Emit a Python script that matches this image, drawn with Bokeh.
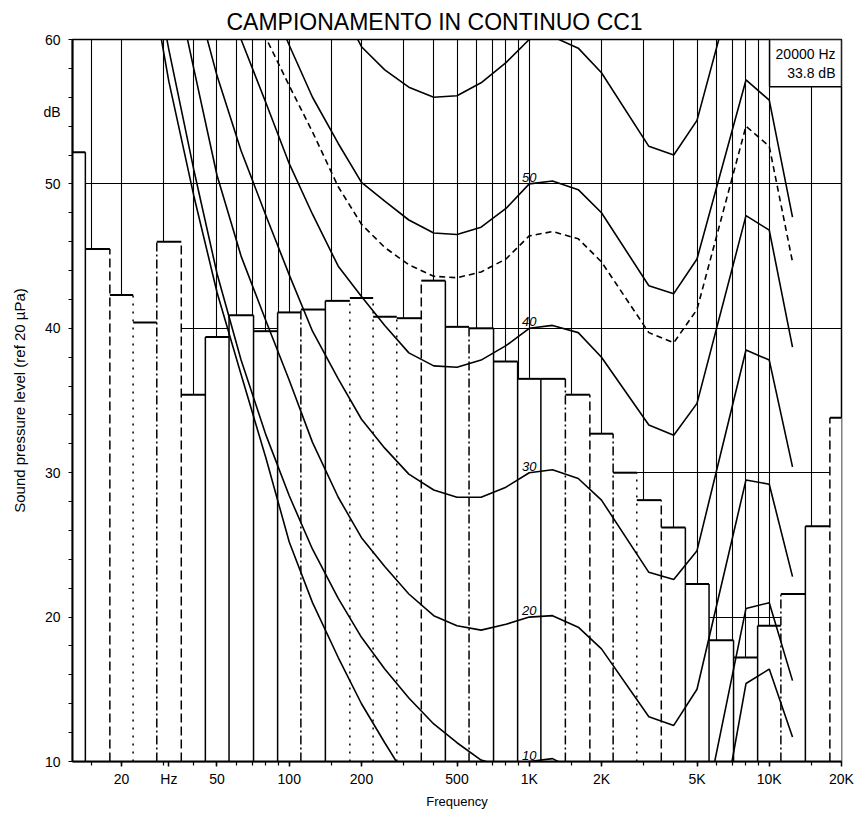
from bokeh.plotting import figure
from bokeh.models import Range1d, FixedTicker, ColumnDataSource, Label
from bokeh.embed import file_html
from bokeh.resources import INLINE
from bokeh.core.properties import value

FONT = "Liberation Sans"

chart_title = "CAMPIONAMENTO IN CONTINUO CC1"

# third-octave band spectrum
band_freqs = [12.5, 16, 20, 25, 31.5, 40, 50, 63, 80, 100, 125, 160, 200, 250, 315,
              400, 500, 630, 800, 1000, 1250, 1600, 2000, 2500, 3150, 4000, 5000,
              6300, 8000, 10000, 12500, 16000, 20000]
band_levels = [52.2, 45.5, 42.3, 40.4, 46.0, 35.4, 39.4, 40.9, 39.8, 41.1, 41.3, 41.9,
               42.1, 40.8, 40.7, 43.3, 40.1, 40.0, 37.7, 36.5, 36.5, 35.4, 32.7, 30.0,
               28.1, 26.2, 22.3, 18.4, 17.2, 19.4, 21.6, 26.3, 33.8]
# outline style of the boundary between band i and band i+1 (as printed)
edge_styles = ["solid", "dashed", "dotted", "dashdot", "dashed", "solid", "solid", "solid",
               "solid", "dashdot", "solid", "dotted", "dotted", "dotted", "dashed", "solid",
               "dashdot", "solid", "solid", "solid", "dashdot", "dashed", "dashdot", "dotted",
               "dashed", "solid", "solid", "solid", "solid", "dashdot", "solid", "dashed"]

# equal loudness contours (dB)
thr_freqs = [25, 31.5, 40, 50, 63, 80, 100, 125, 160, 200, 250, 315, 400, 5000, 8000, 10000, 12500]
thr_levels = [66.5, 57.1, 49.2, 42.5, 36.8, 31.0, 25.2, 21.0, 17.2, 14.0, 11.3, 8.6, 6.2, -3.5, 15.4, 16.4, 11.7]

p10_freqs = [25, 31.5, 40, 50, 63, 80, 100, 125, 160, 200, 250, 315, 400, 500, 630, 800, 1000,
             1250, 1600, 2000, 3150, 4000, 5000, 8000, 10000, 12500]
p10_levels = [68.0, 59.3, 51.0, 43.8, 37.8, 32.6, 28.4, 24.7, 21.3, 18.6, 16.4, 14.4, 12.6, 11.3,
              10.1, 9.6, 10.0, 10.2, 9.3, 7.9, 3.2, 2.6, 4.0, 20.6, 21.0, 15.6]

p20_freqs = [25, 31.5, 40, 50, 63, 80, 100, 125, 160, 200, 250, 315, 400, 500, 630, 800, 1000,
             1250, 1600, 2000, 3150, 4000, 5000, 8000, 10000, 12500]
p20_levels = [74.0, 66.0, 58.0, 50.6, 45.0, 40.5, 36.4, 32.1, 28.3, 25.5, 23.5, 21.6, 20.1, 19.4,
              19.1, 19.5, 20.0, 20.1, 19.3, 17.8, 13.1, 12.5, 15.0, 29.5, 29.2, 22.8]

p30_freqs = [31.5, 40, 50, 63, 80, 100, 125, 160, 200, 250, 315, 400, 500, 630, 800, 1000,
             1250, 1600, 2000, 3150, 4000, 5000, 8000, 10000, 12500]
p30_levels = [71.0, 63.5, 57.5, 52.3, 47.8, 43.7, 39.8, 36.5, 33.7, 31.7, 29.9, 28.8, 28.3, 28.3,
              29.0, 30.0, 30.2, 29.6, 28.1, 23.1, 22.6, 24.6, 38.5, 37.8, 30.4]

p40_freqs = [50, 63, 80, 100, 125, 160, 200, 250, 315, 400, 500, 630, 800, 1000, 1250, 1600,
             2000, 3150, 4000, 5000, 8000, 10000, 12500]
p40_levels = [65.0, 60.0, 55.6, 51.4, 47.9, 44.3, 42.2, 40.2, 38.3, 37.4, 37.3, 37.8, 38.8, 40.0,
              40.2, 39.7, 38.0, 33.3, 32.6, 34.8, 47.8, 46.8, 38.7]

dash_freqs = [63, 80, 100, 125, 160, 200, 250, 315, 400, 500, 630, 800, 1000, 1250, 1600, 2000,
              3150, 4000, 5000, 8000, 10000, 12500]
dash_levels = [63.5, 60.1, 56.8, 53.6, 49.8, 47.2, 45.6, 44.4, 43.6, 43.5, 43.9, 44.8, 46.4, 46.7,
               46.2, 44.6, 39.7, 39.0, 41.3, 54.0, 52.6, 44.6]

p50_freqs = [80, 100, 125, 160, 200, 250, 315, 400, 500, 630, 800, 1000, 1250, 1600, 2000,
             3150, 4000, 5000, 8000, 10000, 12500]
p50_levels = [63.5, 59.6, 56.0, 52.8, 50.1, 48.8, 47.5, 46.6, 46.5, 47.0, 48.3, 50.0, 50.2, 49.6,
              48.0, 42.95, 42.4, 44.8, 57.2, 55.8, 47.7]

p60_freqs = [125, 160, 200, 250, 315, 400, 500, 630, 800, 1000, 1250, 1600, 2000, 3150, 4000,
             5000, 8000]
p60_levels = [66.0, 62.6, 59.5, 57.9, 56.7, 56.0, 56.1, 57.0, 58.4, 60.0, 60.2, 59.4, 57.7, 52.6,
              52.0, 54.4, 67.0]

contour_label_freq = 1000
contour_labels = [10, 20, 30, 40, 50]

tick_freqs = [20, 31.5, 50, 100, 200, 500, 1000, 2000, 5000, 10000, 20000]
tick_labels = ["20", "Hz", "50", "100", "200", "500", "1K", "2K", "5K", "10K", "20K"]
grid_freqs = [15, 20, 30, 40, 50, 60, 70, 80, 90, 100, 150, 200, 300, 400, 500, 600, 700, 800,
              900, 1000, 1500, 2000, 3000, 4000, 5000, 6000, 7000, 8000, 9000, 10000, 15000]
level_ticks = [10, 20, 30, 40, 50, 55, 60]
level_labels = ["10", "20", "30", "40", "50", "dB", "60"]
level_marks = [10, 12, 14, 16, 18, 20, 22, 24, 26, 28, 30, 32, 34, 36, 38, 40, 42, 44, 46, 48,
               50, 52, 54, 56, 58, 60]
level_grid = [20, 30, 40, 50]

x_lo, x_hi = 12.5, 20000
y_lo, y_hi = 10, 60

p = figure(width=857, height=814, x_axis_type="log", output_backend="svg",
           toolbar_location=None, x_range=Range1d(x_lo, x_hi), y_range=Range1d(y_lo, y_hi),
           min_border_left=72, min_border_right=16, min_border_top=39, min_border_bottom=53,
           title=chart_title)
p.background_fill_color = "white"
p.border_fill_color = "white"
p.outline_line_color = "black"
p.outline_line_width = 1.5

p.title.text_font = FONT
p.title.text_font_size = "23px"
p.title.text_font_style = "normal"
p.title.text_color = "black"
p.title.align = "left"
p.title.offset = 154
p.title.standoff = 9

# grids
p.xgrid.ticker = FixedTicker(ticks=grid_freqs)
p.ygrid.ticker = FixedTicker(ticks=level_grid)
for g in (p.xgrid, p.ygrid):
    g.grid_line_color = "black"
    g.grid_line_width = 1.1
    g.grid_line_alpha = 1.0

# axes
xa = p.xaxis[0]
xa.ticker = FixedTicker(ticks=tick_freqs, minor_ticks=grid_freqs)
xa.major_label_overrides = {f: t for f, t in zip(tick_freqs, tick_labels)}
xa.axis_label = "Frequency"
ya = p.yaxis[0]
ya.ticker = FixedTicker(ticks=level_ticks, minor_ticks=level_marks)
ya.major_label_overrides = {v: t for v, t in zip(level_ticks, level_labels)}
ya.axis_label = "Sound pressure level (ref 20 \u00b5Pa)"
for ax in (xa, ya):
    ax.axis_line_width = 2
    ax.axis_line_color = "black"
    ax.major_tick_in = 0
    ax.minor_tick_in = 0
    ax.minor_tick_out = 4
    ax.major_tick_line_width = 1.5
    ax.minor_tick_line_width = 1.2
    ax.major_label_text_font = FONT
    ax.major_label_text_font_size = "14px"
    ax.major_label_text_color = "black"
    ax.axis_label_text_font = FONT
    ax.axis_label_text_font_style = "normal"
    ax.axis_label_text_color = "black"
xa.major_tick_out = 5
ya.major_tick_out = 0
xa.axis_label_text_font_size = "13px"
ya.axis_label_text_font_size = "15px"
xa.major_label_standoff = 4
xa.axis_label_standoff = 4
ya.major_label_standoff = 8
ya.axis_label_standoff = 12

# bars: edges are geometric means of adjacent band centres
n = len(band_freqs)
mids = [(band_freqs[i] * band_freqs[i + 1]) ** 0.5 for i in range(n - 1)]
lefts = [band_freqs[0] ** 2 / mids[0]] + mids
rights = mids + [band_freqs[-1] ** 2 / mids[-1]]

bars = ColumnDataSource(dict(left=lefts, right=rights, top=band_levels,
                             bottom=[y_lo] * n))
p.quad(left="left", right="right", top="top", bottom="bottom", source=bars,
       fill_color="white", line_alpha=0)
p.segment(x0="left", y0="top", x1="right", y1="top", source=bars,
          line_color="black", line_width=2)

dash_map = {"solid": "solid", "dashed": "9 4", "dashdot": "9 3 2 3", "dotted": "2 6"}
for style, dash in dash_map.items():
    idx = [i for i, s in enumerate(edge_styles) if s == style]
    src = ColumnDataSource(dict(
        x=[mids[i] for i in idx],
        y0=[y_lo] * len(idx),
        y1=[max(band_levels[i], band_levels[i + 1]) for i in idx]))
    p.segment(x0="x", y0="y0", x1="x", y1="y1", source=src, line_color="black",
              line_width=1.5, line_dash=dash)
# outer edges of first and last band
p.segment(x0=[lefts[0], rights[-1]], y0=[y_lo, y_lo], x1=[lefts[0], rights[-1]],
          y1=[band_levels[0], band_levels[-1]], line_color="black", line_width=1.5)

# contours
for fr, lv in [(thr_freqs, thr_levels), (p10_freqs, p10_levels), (p20_freqs, p20_levels),
               (p30_freqs, p30_levels), (p40_freqs, p40_levels), (p50_freqs, p50_levels),
               (p60_freqs, p60_levels)]:
    p.line(fr, lv, line_color="black", line_width=1.6)
p.line(dash_freqs, dash_levels, line_color="black", line_width=1.6, line_dash="6 4")

p.text(x=[contour_label_freq] * len(contour_labels), y=contour_labels,
       text=[str(v) for v in contour_labels], text_align="center", text_baseline="bottom",
       y_offset=-2, text_font=value(FONT), text_font_size=value("13px"),
       text_font_style="italic", text_color="black")

# readout box for the last band
p.add_layout(Label(x=band_freqs[-1], y=y_hi,
                   text=f"{band_freqs[-1]} Hz\n{band_levels[-1]} dB",
                   text_font=FONT, text_font_size="14px", text_align="right",
                   text_baseline="top", text_color="black",
                   background_fill_color="white", border_line_color="black",
                   border_line_width=1.5, padding=6))

open("out.html", "w").write(file_html(p, INLINE))
